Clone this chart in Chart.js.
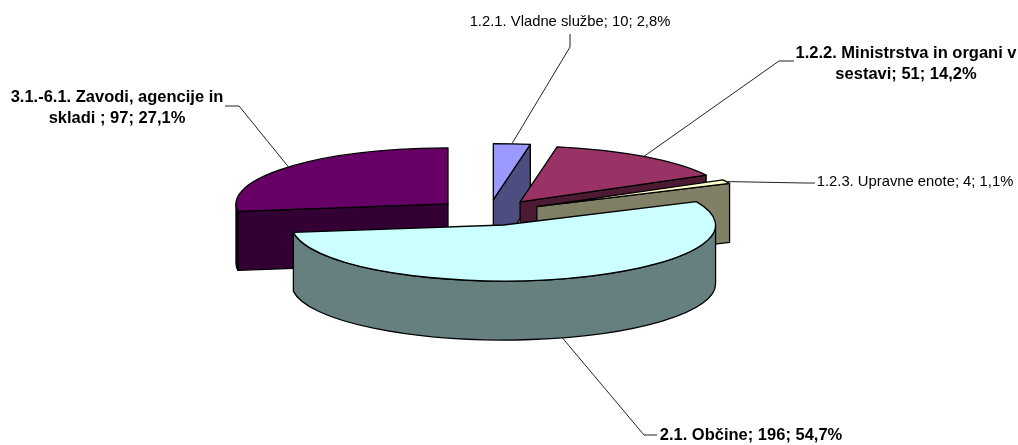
<!DOCTYPE html>
<html><head><meta charset="utf-8">
<style>html,body{margin:0;padding:0;background:#fff}canvas{display:block}</style>
<script src="https://cdn.jsdelivr.net/npm/chart.js@4"></script>
</head><body>
<canvas id="c" width="1018" height="445"></canvas>
<script>
const categories = ["1.2.1. Vladne službe","1.2.2. Ministrstva in organi v sestavi","1.2.3. Upravne enote","2.1. Občine","3.1.-6.1. Zavodi, agencije in skladi "];
const values = [10,51,4,196,97];
const percents = ["2,8%","14,2%","1,1%","54,7%","27,1%"];
const topColors = ["#9999FF","#993366","#FFFFCC","#CCFFFF","#660066"];
const sideColors = ["#4D4D80","#4D1A33","#808066","#668080","#330033"];
const drawOrder = [0,1,2,4,3];

const view = {cx:488.6, cy:212.5, rx:212, ry:56, depth:59, explodeX:54, explodeY:13};
const labelLayout = [
  {lines:["1.2.1. Vladne službe; 10; 2,8%"], x:570, y:22, bold:false, elbow:[[570,47],[570,34]]},
  {lines:["1.2.2. Ministrstva in organi v","sestavi; 51; 14,2%"], x:906, y:53, bold:true, elbow:[[779,61],[794,61]]},
  {lines:["1.2.3. Upravne enote; 4; 1,1%"], x:915, y:182, bold:false, elbow:[[805,183],[815,183]]},
  {lines:["2.1. Občine; 196; 54,7%"], x:751, y:435, bold:true, elbow:[[644,435],[657,435]]},
  {lines:["3.1.-6.1. Zavodi, agencije in","skladi ; 97; 27,1%"], x:117, y:97, bold:true, elbow:[[239,106],[225,106]]}
];

const pie3d = {
  id:'pie3d',
  beforeDatasetDraw(chart,args){
    const ctx = chart.ctx;
    const arcs = chart.getDatasetMeta(args.index).data;
    const R = arcs[0].outerRadius;
    const sx = view.rx/R, sy = view.ry/R;
    const geo = a=>{
      const h=(a.startAngle+a.endAngle)/2;
      return {
        x:view.cx+Math.cos(h)*view.explodeX,
        y:view.cy+Math.sin(h)*view.explodeY,
        a:a.startAngle,b:a.endAngle,h
      };
    };
    const pt=(g,t)=>[g.x+view.rx*Math.cos(t), g.y+view.ry*Math.sin(t)];
    const stroke=()=>{ctx.strokeStyle='#000';ctx.lineWidth=1.3;ctx.lineJoin='round';ctx.stroke();};
    const face=(g,t)=>{
      const p=pt(g,t);
      ctx.beginPath();ctx.moveTo(g.x,g.y);ctx.lineTo(p[0],p[1]);
      ctx.lineTo(p[0],p[1]+view.depth);ctx.lineTo(g.x,g.y+view.depth);ctx.closePath();
    };
    ctx.save();
    for(const i of drawOrder){
      const arc=arcs[i], g=geo(arc);
      ctx.fillStyle=sideColors[i];
      if(Math.cos(g.a)<-1e-6){face(g,g.a);ctx.fill();stroke();}
      if(Math.cos(g.b)>1e-6){face(g,g.b);ctx.fill();stroke();}
      const wa=Math.max(g.a,0), wb=Math.min(g.b,Math.PI);
      if(wb>wa){
        ctx.beginPath();
        ctx.ellipse(g.x,g.y,view.rx,view.ry,0,wa,wb);
        ctx.ellipse(g.x,g.y+view.depth,view.rx,view.ry,0,wb,wa,true);
        ctx.closePath();ctx.fill();stroke();
      }
      ctx.save();
      ctx.setTransform(sx,0,0,sy,g.x-sx*arc.x,g.y-sy*arc.y);
      arc.draw(ctx);
      ctx.restore();
      ctx.beginPath();
      ctx.moveTo(g.x,g.y);
      ctx.ellipse(g.x,g.y,view.rx,view.ry,0,g.a,g.b);
      ctx.closePath();stroke();
    }
    // leader lines and labels
    ctx.textAlign='center';ctx.textBaseline='middle';ctx.fillStyle='#000';
    labelLayout.forEach((l,i)=>{
      const g=geo(arcs[i]);
      const p=pt(g,g.h);
      const anchorY=Math.sin(g.h)>0?p[1]+view.depth:p[1];
      ctx.beginPath();ctx.moveTo(p[0],anchorY);
      l.elbow.forEach(e=>ctx.lineTo(e[0],e[1]));
      ctx.strokeStyle='#222';ctx.lineWidth=1;ctx.stroke();
      ctx.font=(l.bold?'bold 16.5px':'14.8px')+' "Liberation Sans"';
      l.lines.forEach((t,k)=>ctx.fillText(t,l.x,l.y+k*21));
    });
    ctx.restore();
    return false;
  }
};

new Chart(document.getElementById('c'),{
  type:'pie',
  data:{labels:categories,datasets:[{data:values,backgroundColor:topColors,borderWidth:0}]},
  options:{
    responsive:false,animation:false,events:[],rotation:0,
    layout:{padding:0},
    plugins:{legend:{display:false},tooltip:{enabled:false},title:{display:false}}
  },
  plugins:[pie3d]
});
</script>
</body></html>
